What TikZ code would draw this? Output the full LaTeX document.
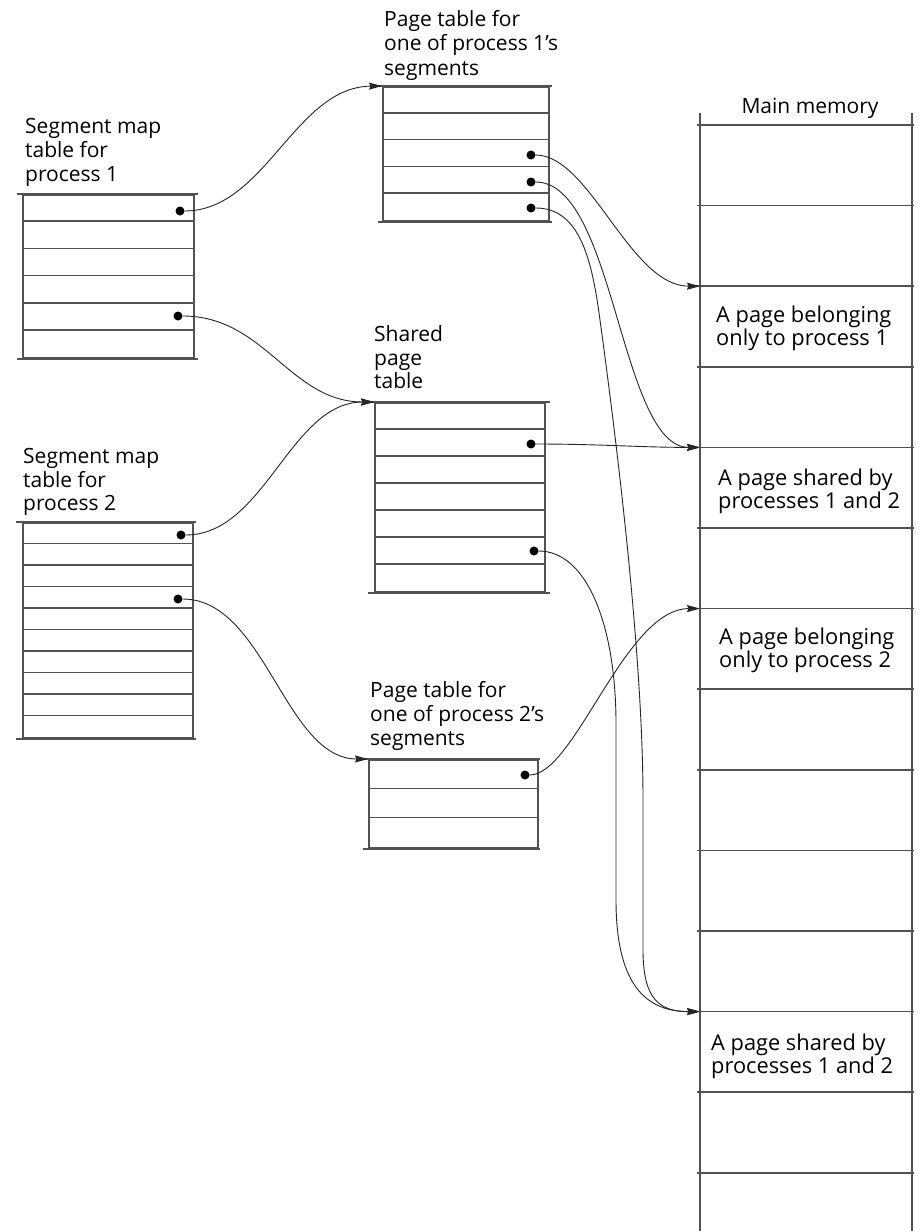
\documentclass[tikz,border=0pt]{standalone}
\usepackage{fontspec}
\setmainfont{Open Sans}
\usetikzlibrary{arrows.meta,calc}
\begin{document}
\begin{tikzpicture}[x=1pt,y=-1pt,
  tbl/.style={draw=black!68,line width=1.7pt,inner sep=0pt,anchor=north west},
  tblline/.style={draw=black!68,line width=1.6pt},
  dot/.style={circle,fill=black,inner sep=0pt,minimum size=9pt},
  ptr/.style={draw=black!85,line width=0.9pt,-{Stealth[length=13pt,width=7pt,inset=1.5pt]}},
  lbl/.style={anchor=base west,inner sep=0pt,font=\fontsize{21}{23.5}\selectfont},
  mlbl/.style={anchor=base,inner sep=0pt,font=\fontsize{21}{23.5}\selectfont},
  clbl/.style={anchor=base west,inner sep=0pt,align=left,font=\fontsize{21.8}{23}\selectfont}
]
\useasboundingbox (0,0) rectangle (919,1231);
\fill[white] (0,0) rectangle (919,1231);

% ---------- Segment map table for process 1
\node[tbl,minimum width=171pt,minimum height=163.2pt] (smt1) at (22,194) {};
\foreach \i in {1,...,5} \draw[tblline] ($(smt1.north west)+(0,\i*27.2)$) -- ++(171,0);
\draw[tblline] ($(smt1.north west)+(-5,0)$) -- ++(181,0);
\draw[tblline] ($(smt1.south west)+(-5,0)$) -- ++(181,0);
\node[lbl] (smt1t1) at (25,133) {Segment map};
\node[lbl] (smt1t2) at (25,157) {table for};
\node[lbl] (smt1t3) at (25,181) {process 1};

% ---------- Page table for process 1's segment
\node[tbl,minimum width=166pt,minimum height=134pt] (pt1) at (382,86) {};
\foreach \i in {1,...,4} \draw[tblline] ($(pt1.north west)+(0,\i*26.8)$) -- ++(166,0);
\draw[tblline] ($(pt1.north west)+(-4,0)$) -- ++(174,0);
\draw[tblline] ($(pt1.south west)+(-4,0)$) -- ++(174,0);
\node[lbl] (pt1t1) at (384,27) {Page table for};
\node[lbl] (pt1t2) at (384,51) {one of process 1’s};
\node[lbl] (pt1t3) at (384,75) {segments};

% ---------- Shared page table
\node[tbl,minimum width=170pt,minimum height=189pt] (spt) at (374,402) {};
\foreach \i in {1,...,6} \draw[tblline] ($(spt.north west)+(0,\i*27)$) -- ++(170,0);
\draw[tblline] ($(spt.north west)+(-6,0)$) -- ++(182,0);
\draw[tblline] ($(spt.south west)+(-6,0)$) -- ++(182,0);
\node[lbl] (sptt1) at (374,341) {Shared};
\node[lbl] (sptt2) at (374,365) {page};
\node[lbl] (sptt3) at (374,388) {table};

% ---------- Segment map table for process 2
\node[tbl,minimum width=170pt,minimum height=215pt] (smt2) at (22,522) {};
\foreach \i in {1,...,9} \draw[tblline] ($(smt2.north west)+(0,\i*21.5)$) -- ++(170,0);
\draw[tblline] ($(smt2.north west)+(-6,0)$) -- ++(180,0);
\draw[tblline] ($(smt2.south west)+(-6,0)$) -- ++(180,0);
\node[lbl] (smt2t1) at (23,463) {Segment map};
\node[lbl] (smt2t2) at (23,487) {table for};
\node[lbl] (smt2t3) at (23,510) {process 2};

% ---------- Page table for process 2's segment
\node[tbl,minimum width=169pt,minimum height=88pt] (pt2) at (368,759) {};
\foreach \i in {1,2} \draw[tblline] ($(pt2.north west)+(0,\i*29.3)$) -- ++(169,0);
\draw[tblline] ($(pt2.north west)+(-5,0)$) -- ++(177,0);
\draw[tblline] ($(pt2.south west)+(-5,0)$) -- ++(177,0);
\node[lbl] (pt2t1) at (370,697) {Page table for};
\node[lbl] (pt2t2) at (370,721) {one of process 2’s};
\node[lbl] (pt2t3) at (370,745) {segments};

% ---------- Main memory
\node[mlbl] (mmt) at (810,113) {Main memory};
\draw[tblline] (700,113) -- (700,1231);
\draw[tblline] (912,113) -- (912,1231);
\foreach \k in {0,...,13} \draw[tblline] (697,125+\k*80.6) -- (914,125+\k*80.6);
\coordinate (m2) at (700,286.2);
\coordinate (m4) at (700,447.4);
\coordinate (m6) at (700,608.6);
\coordinate (m11) at (700,1011.6);
\node[clbl] (c2a) at (716,345) {A page belonging\\only to process 1};
\node[clbl] (c4a) at (718,508) {A page shared by\\processes 1 and 2};
\node[clbl] (c6a) at (719,667) {A page belonging\\only to process 2};
\node[clbl] (c11a) at (711,1073) {A page shared by\\processes 1 and 2};

% ---------- Pointer dots
\node[dot] (s1a) at (180,211) {};
\node[dot] (s1b) at (178,316) {};
\node[dot] (s2a) at (181,535) {};
\node[dot] (s2b) at (178,599) {};
\node[dot] (p1a) at (531,155) {};
\node[dot] (p1b) at (531,182) {};
\node[dot] (p1c) at (531,208) {};
\node[dot] (spa) at (531,444) {};
\node[dot] (spb) at (534,551) {};
\node[dot] (p2a) at (525,775) {};

% ---------- Pointers
\draw[ptr] (s1a.east) .. controls (265,211) and (295,87) .. (pt1.north west);
\draw[ptr] (s1b.east) .. controls (265,316) and (290,402) .. (spt.north west);
\draw[ptr] (s2a.east) .. controls (265,535) and (290,402) .. (spt.north west);
\draw[ptr] (s2b.east) .. controls (265,599) and (285,759) .. (pt2.north west);
\draw[ptr] (p1a.east) .. controls (590,155) and (630,286.2) .. (m2);
\draw[ptr] (p1b.east) .. controls (615,182) and (620,447.4) .. (m4);
\draw[ptr] (p1c.east) .. controls (580,208) and (592,260) .. (600,320)
   .. controls (615,430) and (643,650) .. (643,800) -- (643,950)
   .. controls (643,1000) and (660,1011.6) .. (m11);
\draw[ptr] (spa.east) .. controls (600,444) and (640,447.4) .. (m4);
\draw[ptr] (spb.east) .. controls (585,551) and (615,620) .. (616,720) -- (616,900)
   .. controls (616,990) and (650,1011.6) .. (m11);
\draw[ptr] (p2a.east) .. controls (575,775) and (625,608.6) .. (m6);
\end{tikzpicture}
\end{document}
